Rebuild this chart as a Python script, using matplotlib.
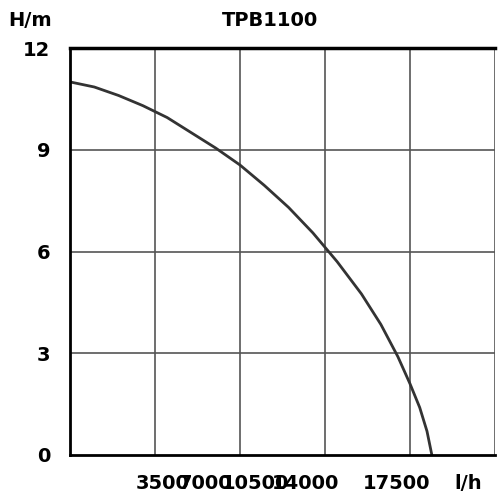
import matplotlib
matplotlib.use('Agg')
import matplotlib.pyplot as plt

plt.rcParams['font.family'] = ['Liberation Sans Narrow', 'DejaVu Sans']

# curve (flow in l/h, head in m)
flow = [0, 1000, 2000, 3000, 4000, 5000, 6000, 7000, 8000, 9000, 10000,
        11000, 12000, 12800, 13500, 14000, 14400, 14700, 14900]
head = [11.0, 10.85, 10.6, 10.3, 9.95, 9.5, 9.05, 8.55, 7.95, 7.3, 6.55,
        5.7, 4.75, 3.85, 2.9, 2.1, 1.4, 0.7, 0.0]

y_ticks = [0, 3, 6, 9, 12]
x_grid = [3500, 7000, 10500, 14000, 17500]
x_labels = ['3500', '7000', '10500', '14000', '17500', 'l/h']
x_label_pos = [3800, 5580, 7620, 9700, 13450, 16400]

fig = plt.figure(figsize=(5.01, 5.01), dpi=100)
ax = fig.add_axes([70 / 501, 46 / 501, 425 / 501, 407 / 501])
ax.set_xlim(0, 17500)
ax.set_ylim(0, 12)

for x in x_grid:
    ax.axvline(x, color='#555555', lw=1.2)
for y in y_ticks[1:-1]:
    ax.axhline(y, color='#555555', lw=1.2)
ax.axhline(12, color='black', lw=2.5, clip_on=False)

ax.plot(flow, head, color='#333333', lw=2)

for s in ['top', 'right']:
    ax.spines[s].set_visible(False)
for s in ['left', 'bottom']:
    ax.spines[s].set_linewidth(2)

ax.set_yticks(y_ticks)
ax.set_yticklabels([str(v) for v in y_ticks], fontsize=14, fontweight='bold')
ax.tick_params(axis='y', length=0, pad=14)
ax.set_xticks([])

for lab, x in zip(x_labels, x_label_pos):
    ax.text(x, -0.55, lab, ha='center', va='top', fontsize=14, fontweight='bold')

fig.text(30 / 501, 1 - 20 / 501, 'H/m', ha='center', va='center', fontsize=14, fontweight='bold')
fig.text(270 / 501, 1 - 20 / 501, 'TPB1100', ha='center', va='center', fontsize=14, fontweight='bold')

fig.savefig('out.png', dpi=100)
